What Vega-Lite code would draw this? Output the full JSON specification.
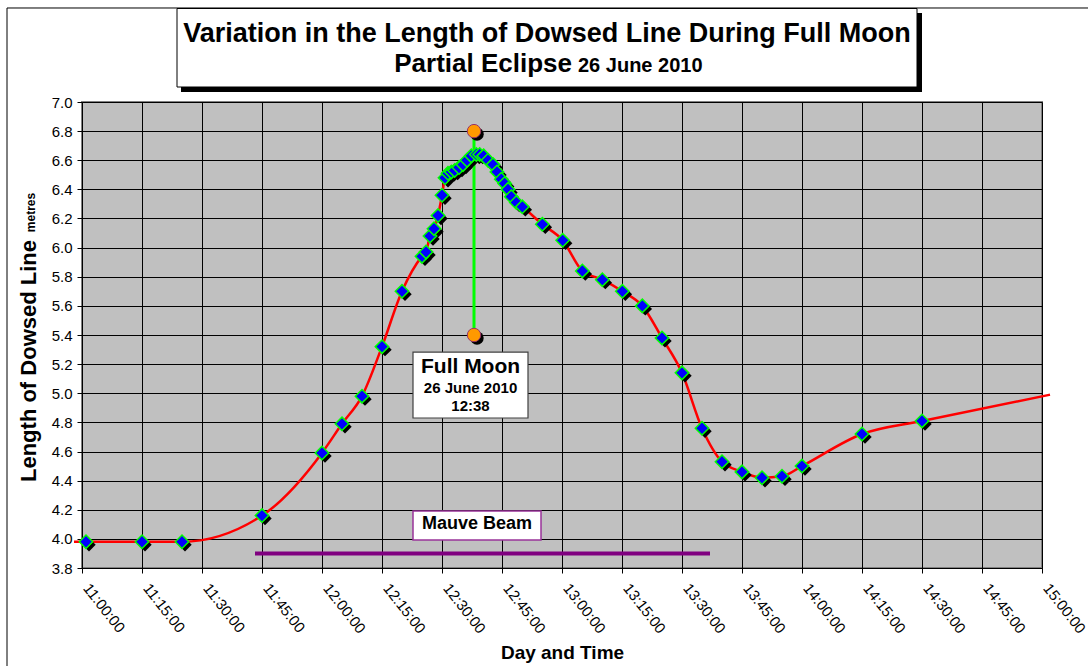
{
  "$schema": "https://vega.github.io/schema/vega-lite/v6.json",
  "width": 960,
  "height": 466,
  "autosize": {"type": "none"},
  "padding": {"left": 82, "top": 102, "right": 46, "bottom": 98},
  "background": "white",
  "config": {
    "font": "Liberation Sans",
    "view": {"fill": "#c0c0c0", "stroke": "#808080", "strokeWidth": 2}
  },
  "datasets": {
    "readings": [
      {"time": "2010-06-26T10:58:00", "value": 3.98, "marker": false},
      {"time": "2010-06-26T11:01:00", "value": 3.98, "marker": true},
      {"time": "2010-06-26T11:15:00", "value": 3.98, "marker": true},
      {"time": "2010-06-26T11:25:00", "value": 3.98, "marker": true},
      {"time": "2010-06-26T11:45:00", "value": 4.16, "marker": true},
      {"time": "2010-06-26T12:00:00", "value": 4.59, "marker": true},
      {"time": "2010-06-26T12:05:00", "value": 4.79, "marker": true},
      {"time": "2010-06-26T12:10:00", "value": 4.98, "marker": true},
      {"time": "2010-06-26T12:15:00", "value": 5.32, "marker": true},
      {"time": "2010-06-26T12:20:00", "value": 5.70, "marker": true},
      {"time": "2010-06-26T12:25:00", "value": 5.94, "marker": true},
      {"time": "2010-06-26T12:26:00", "value": 5.97, "marker": true},
      {"time": "2010-06-26T12:27:00", "value": 6.08, "marker": true},
      {"time": "2010-06-26T12:28:00", "value": 6.13, "marker": true},
      {"time": "2010-06-26T12:29:00", "value": 6.22, "marker": true},
      {"time": "2010-06-26T12:30:00", "value": 6.36, "marker": true},
      {"time": "2010-06-26T12:30:45", "value": 6.48, "marker": true},
      {"time": "2010-06-26T12:31:30", "value": 6.51, "marker": true},
      {"time": "2010-06-26T12:32:20", "value": 6.52, "marker": true},
      {"time": "2010-06-26T12:33:10", "value": 6.53, "marker": true},
      {"time": "2010-06-26T12:34:15", "value": 6.55, "marker": true},
      {"time": "2010-06-26T12:35:15", "value": 6.57, "marker": true},
      {"time": "2010-06-26T12:36:15", "value": 6.60, "marker": true},
      {"time": "2010-06-26T12:37:20", "value": 6.63, "marker": true},
      {"time": "2010-06-26T12:38:35", "value": 6.64, "marker": true},
      {"time": "2010-06-26T12:39:25", "value": 6.64, "marker": true},
      {"time": "2010-06-26T12:40:25", "value": 6.63, "marker": true},
      {"time": "2010-06-26T12:41:30", "value": 6.60, "marker": true},
      {"time": "2010-06-26T12:42:45", "value": 6.57, "marker": true},
      {"time": "2010-06-26T12:43:45", "value": 6.52, "marker": true},
      {"time": "2010-06-26T12:44:50", "value": 6.47, "marker": true},
      {"time": "2010-06-26T12:45:40", "value": 6.44, "marker": true},
      {"time": "2010-06-26T12:46:30", "value": 6.40, "marker": true},
      {"time": "2010-06-26T12:47:20", "value": 6.35, "marker": true},
      {"time": "2010-06-26T12:48:35", "value": 6.31, "marker": true},
      {"time": "2010-06-26T12:50:05", "value": 6.28, "marker": true},
      {"time": "2010-06-26T12:55:05", "value": 6.16, "marker": true},
      {"time": "2010-06-26T13:00:10", "value": 6.05, "marker": true},
      {"time": "2010-06-26T13:05:05", "value": 5.84, "marker": true},
      {"time": "2010-06-26T13:10:05", "value": 5.78, "marker": true},
      {"time": "2010-06-26T13:15:05", "value": 5.70, "marker": true},
      {"time": "2010-06-26T13:20:05", "value": 5.60, "marker": true},
      {"time": "2010-06-26T13:25:00", "value": 5.38, "marker": true},
      {"time": "2010-06-26T13:30:00", "value": 5.14, "marker": true},
      {"time": "2010-06-26T13:35:00", "value": 4.76, "marker": true},
      {"time": "2010-06-26T13:40:00", "value": 4.53, "marker": true},
      {"time": "2010-06-26T13:45:00", "value": 4.46, "marker": true},
      {"time": "2010-06-26T13:50:00", "value": 4.42, "marker": true},
      {"time": "2010-06-26T13:55:00", "value": 4.43, "marker": true},
      {"time": "2010-06-26T14:00:00", "value": 4.50, "marker": true},
      {"time": "2010-06-26T14:15:00", "value": 4.72, "marker": true},
      {"time": "2010-06-26T14:30:00", "value": 4.81, "marker": true},
      {"time": "2010-06-26T15:02:00", "value": 4.99, "marker": false}
    ],
    "fullMoon": [
      {"time": "2010-06-26T12:38:00", "low": 5.4, "high": 6.8}
    ],
    "mauveBeam": [
      {"start": "2010-06-26T11:43:15", "end": "2010-06-26T13:37:00", "level": 3.9}
    ]
  },
  "layer": [
    {
      "data": {"values": [{}]},
      "mark": {"type": "rect", "filled": false, "color": "black", "strokeWidth": 1},
      "encoding": {
        "x": {"datum": {"year": 2010, "month": 6, "date": 26, "hours": 10, "minutes": 41, "seconds": 15}, "type": "temporal"},
        "x2": {"datum": {"year": 2010, "month": 6, "date": 26, "hours": 15, "minutes": 12, "seconds": 30}},
        "y": {"datum": 7.6455, "type": "quantitative"},
        "y2": {"datum": 3.1}
      }
    },
    {
      "data": {"values": [{}]},
      "mark": {"type": "rect", "color": "black"},
      "encoding": {
        "x": {"datum": {"year": 2010, "month": 6, "date": 26, "hours": 11, "minutes": 24, "seconds": 45}, "type": "temporal"},
        "x2": {"datum": {"year": 2010, "month": 6, "date": 26, "hours": 14, "minutes": 30, "seconds": 0}},
        "y": {"datum": 7.611, "type": "quantitative"},
        "y2": {"datum": 7.069}
      }
    },
    {
      "data": {"values": [{}]},
      "mark": {"type": "rect", "fill": "white", "stroke": "black", "strokeWidth": 1},
      "encoding": {
        "x": {"datum": {"year": 2010, "month": 6, "date": 26, "hours": 11, "minutes": 23, "seconds": 45}, "type": "temporal"},
        "x2": {"datum": {"year": 2010, "month": 6, "date": 26, "hours": 14, "minutes": 28, "seconds": 45}},
        "y": {"datum": 7.642, "type": "quantitative"},
        "y2": {"datum": 7.103}
      }
    },
    {
      "data": {"values": [{}]},
      "mark": {"type": "text", "text": "Variation in the Length of Dowsed Line During Full Moon", "fontSize": 27, "fontWeight": "bold", "align": "center", "baseline": "alphabetic", "color": "black"},
      "encoding": {
        "x": {"datum": {"year": 2010, "month": 6, "date": 26, "hours": 12, "minutes": 56, "seconds": 15}, "type": "temporal"},
        "y": {"datum": 7.412, "type": "quantitative"}
      }
    },
    {
      "data": {"values": [{}]},
      "mark": {"type": "text", "text": "Partial Eclipse", "fontSize": 26, "fontWeight": "bold", "align": "right", "baseline": "alphabetic", "dx": -3, "color": "black"},
      "encoding": {
        "x": {"datum": {"year": 2010, "month": 6, "date": 26, "hours": 13, "minutes": 3, "seconds": 15}, "type": "temporal"},
        "y": {"datum": 7.206, "type": "quantitative"}
      }
    },
    {
      "data": {"values": [{}]},
      "mark": {"type": "text", "text": "26 June 2010", "fontSize": 20, "fontWeight": "bold", "align": "left", "baseline": "alphabetic", "dx": 3, "color": "black"},
      "encoding": {
        "x": {"datum": {"year": 2010, "month": 6, "date": 26, "hours": 13, "minutes": 3, "seconds": 15}, "type": "temporal"},
        "y": {"datum": 7.206, "type": "quantitative"}
      }
    },
    {
      "data": {"name": "fullMoon"},
      "mark": {"type": "rule", "color": "#00ff00", "strokeWidth": 3},
      "encoding": {
        "x": {"field": "time", "type": "temporal"},
        "y": {"field": "low", "type": "quantitative"},
        "y2": {"field": "high"}
      }
    },
    {
      "data": {"name": "readings"},
      "mark": {"type": "line", "color": "#ff0000", "strokeWidth": 2.5, "interpolate": "monotone"},
      "encoding": {
        "x": {
          "field": "time",
          "type": "temporal",
          "scale": {"domain": [{"year": 2010, "month": 6, "date": 26, "hours": 11}, {"year": 2010, "month": 6, "date": 26, "hours": 15}], "nice": false},
          "axis": {
            "title": "Day and Time",
            "values": [
              {"year": 2010, "month": 6, "date": 26, "hours": 11, "minutes": 0},
              {"year": 2010, "month": 6, "date": 26, "hours": 11, "minutes": 15},
              {"year": 2010, "month": 6, "date": 26, "hours": 11, "minutes": 30},
              {"year": 2010, "month": 6, "date": 26, "hours": 11, "minutes": 45},
              {"year": 2010, "month": 6, "date": 26, "hours": 12, "minutes": 0},
              {"year": 2010, "month": 6, "date": 26, "hours": 12, "minutes": 15},
              {"year": 2010, "month": 6, "date": 26, "hours": 12, "minutes": 30},
              {"year": 2010, "month": 6, "date": 26, "hours": 12, "minutes": 45},
              {"year": 2010, "month": 6, "date": 26, "hours": 13, "minutes": 0},
              {"year": 2010, "month": 6, "date": 26, "hours": 13, "minutes": 15},
              {"year": 2010, "month": 6, "date": 26, "hours": 13, "minutes": 30},
              {"year": 2010, "month": 6, "date": 26, "hours": 13, "minutes": 45},
              {"year": 2010, "month": 6, "date": 26, "hours": 14, "minutes": 0},
              {"year": 2010, "month": 6, "date": 26, "hours": 14, "minutes": 15},
              {"year": 2010, "month": 6, "date": 26, "hours": 14, "minutes": 30},
              {"year": 2010, "month": 6, "date": 26, "hours": 14, "minutes": 45},
              {"year": 2010, "month": 6, "date": 26, "hours": 15, "minutes": 0}
            ],
            "tickCount": 30,
            "format": "%H:%M:%S",
            "labelAngle": 52,
            "labelAlign": "left",
            "labelBaseline": "middle",
            "labelPadding": 12,
            "labelOffset": 4,
            "labelFontSize": 15,
            "labelColor": "black",
            "labelOverlap": false,
            "labelFlush": false,
            "labelBound": false,
            "tickColor": "black",
            "tickSize": 5,
            "domainColor": "black",
            "grid": true,
            "gridColor": "black",
            "gridOpacity": 1,
            "gridWidth": 1,
            "titleFontSize": 19,
            "titleFontWeight": "bold",
            "titleColor": "black",
            "titleX": 480,
            "titleY": 90,
            "titleAlign": "center",
            "titleBaseline": "alphabetic"
          }
        },
        "y": {
          "field": "value",
          "type": "quantitative",
          "scale": {"domain": [3.8, 7.0], "nice": false, "zero": false},
          "axis": {
            "title": "Length of Dowsed Line",
            "values": [3.8, 4, 4.2, 4.4, 4.6, 4.8, 5, 5.2, 5.4, 5.6, 5.8, 6, 6.2, 6.4, 6.6, 6.8, 7],
            "tickCount": 30,
            "format": ".1f",
            "labelFontSize": 15,
            "labelColor": "black",
            "labelPadding": 5,
            "labelOverlap": false,
            "labelFlush": false,
            "tickSize": 5,
            "tickColor": "black",
            "domainColor": "black",
            "grid": true,
            "gridColor": "black",
            "gridOpacity": 1,
            "gridWidth": 1,
            "titleFontSize": 22,
            "titleFontWeight": "bold",
            "titleColor": "black",
            "titleX": -47,
            "titleY": 258.5,
            "titleAngle": 270,
            "titleAlign": "center",
            "titleBaseline": "alphabetic"
          }
        }
      }
    },
    {
      "data": {"name": "readings"},
      "transform": [{"filter": "datum.marker"}],
      "mark": {"type": "point", "shape": "diamond", "size": 180, "filled": true, "color": "black", "opacity": 1, "xOffset": 3, "yOffset": 3},
      "encoding": {
        "x": {"field": "time", "type": "temporal"},
        "y": {"field": "value", "type": "quantitative"}
      }
    },
    {
      "data": {"name": "readings"},
      "transform": [{"filter": "datum.marker"}],
      "mark": {"type": "point", "shape": "diamond", "size": 180, "filled": true, "fill": "#0000ff", "stroke": "#00ff00", "strokeWidth": 1.5, "opacity": 1},
      "encoding": {
        "x": {"field": "time", "type": "temporal"},
        "y": {"field": "value", "type": "quantitative"}
      }
    },
    {
      "data": {"name": "fullMoon"},
      "transform": [{"fold": ["low", "high"], "as": ["end", "level"]}],
      "mark": {"type": "point", "shape": "circle", "size": 180, "filled": true, "color": "black", "opacity": 1, "xOffset": 3, "yOffset": 3},
      "encoding": {
        "x": {"field": "time", "type": "temporal"},
        "y": {"field": "level", "type": "quantitative"}
      }
    },
    {
      "data": {"name": "fullMoon"},
      "transform": [{"fold": ["low", "high"], "as": ["end", "level"]}],
      "mark": {"type": "point", "shape": "circle", "size": 180, "filled": true, "fill": "#ff9900", "stroke": "#993366", "strokeWidth": 1, "opacity": 1},
      "encoding": {
        "x": {"field": "time", "type": "temporal"},
        "y": {"field": "level", "type": "quantitative"}
      }
    },
    {
      "data": {"name": "mauveBeam"},
      "mark": {"type": "rule", "color": "#800080", "strokeWidth": 4},
      "encoding": {
        "x": {"field": "start", "type": "temporal"},
        "x2": {"field": "end"},
        "y": {"field": "level", "type": "quantitative"}
      }
    },
    {
      "data": {"values": [{}]},
      "mark": {"type": "rect", "fill": "white", "stroke": "#404040", "strokeWidth": 1.2},
      "encoding": {
        "x": {"datum": {"year": 2010, "month": 6, "date": 26, "hours": 12, "minutes": 22, "seconds": 45}, "type": "temporal"},
        "x2": {"datum": {"year": 2010, "month": 6, "date": 26, "hours": 12, "minutes": 51, "seconds": 30}},
        "y": {"datum": 5.283, "type": "quantitative"},
        "y2": {"datum": 4.83}
      }
    },
    {
      "data": {"values": [{}]},
      "mark": {"type": "text", "text": "Full Moon", "fontSize": 21, "fontWeight": "bold", "align": "center", "baseline": "alphabetic", "color": "black"},
      "encoding": {
        "x": {"datum": {"year": 2010, "month": 6, "date": 26, "hours": 12, "minutes": 37, "seconds": 8}, "type": "temporal"},
        "y": {"datum": 5.139, "type": "quantitative"}
      }
    },
    {
      "data": {"values": [{}]},
      "mark": {"type": "text", "text": "26 June 2010", "fontSize": 15, "fontWeight": "bold", "align": "center", "baseline": "alphabetic", "color": "black"},
      "encoding": {
        "x": {"datum": {"year": 2010, "month": 6, "date": 26, "hours": 12, "minutes": 37, "seconds": 8}, "type": "temporal"},
        "y": {"datum": 5.002, "type": "quantitative"}
      }
    },
    {
      "data": {"values": [{}]},
      "mark": {"type": "text", "text": "12:38", "fontSize": 15, "fontWeight": "bold", "align": "center", "baseline": "alphabetic", "color": "black"},
      "encoding": {
        "x": {"datum": {"year": 2010, "month": 6, "date": 26, "hours": 12, "minutes": 37, "seconds": 8}, "type": "temporal"},
        "y": {"datum": 4.875, "type": "quantitative"}
      }
    },
    {
      "data": {"values": [{}]},
      "mark": {"type": "rect", "fill": "white", "stroke": "#993399", "strokeWidth": 1.5},
      "encoding": {
        "x": {"datum": {"year": 2010, "month": 6, "date": 26, "hours": 12, "minutes": 22, "seconds": 45}, "type": "temporal"},
        "x2": {"datum": {"year": 2010, "month": 6, "date": 26, "hours": 12, "minutes": 54, "seconds": 45}},
        "y": {"datum": 4.191, "type": "quantitative"},
        "y2": {"datum": 3.992}
      }
    },
    {
      "data": {"values": [{}]},
      "mark": {"type": "text", "text": "Mauve Beam", "fontSize": 18, "fontWeight": "bold", "align": "center", "baseline": "alphabetic", "color": "black"},
      "encoding": {
        "x": {"datum": {"year": 2010, "month": 6, "date": 26, "hours": 12, "minutes": 38, "seconds": 45}, "type": "temporal"},
        "y": {"datum": 4.068, "type": "quantitative"}
      }
    },
    {
      "data": {"values": [{}]},
      "mark": {"type": "text", "text": "metres", "fontSize": 12, "fontWeight": "bold", "angle": 270, "align": "center", "baseline": "alphabetic", "color": "black"},
      "encoding": {
        "x": {"datum": {"year": 2010, "month": 6, "date": 26, "hours": 10, "minutes": 48, "seconds": 15}, "type": "temporal"},
        "y": {"datum": 6.241, "type": "quantitative"}
      }
    }
  ]
}
